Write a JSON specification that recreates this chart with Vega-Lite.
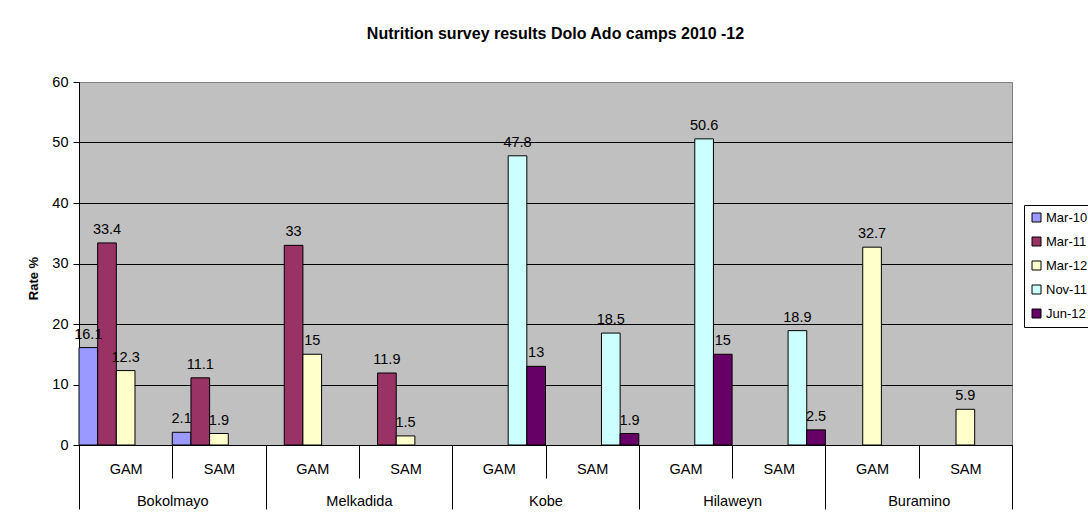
{
  "$schema": "https://vega.github.io/schema/vega-lite/v6.json",
  "width": 933,
  "height": 363,
  "autosize": {"type": "none"},
  "padding": {"left": 79, "top": 82, "right": 76, "bottom": 75},
  "background": "white",
  "title": {
    "text": "Nutrition survey results Dolo Ado camps 2010 -12",
    "font": "Liberation Sans",
    "fontSize": 16,
    "fontWeight": "bold",
    "color": "black",
    "anchor": "middle",
    "frame": "group",
    "baseline": "bottom",
    "offset": 16,
    "dx": 10
  },
  "config": {
    "font": "Liberation Sans",
    "view": {"stroke": "#808080", "fill": "#C0C0C0"},
    "axis": {
      "labelFont": "Liberation Sans",
      "labelFontSize": 14.5,
      "labelColor": "black",
      "titleFont": "Liberation Sans",
      "titleColor": "black",
      "tickColor": "black",
      "domainColor": "black"
    }
  },
  "datasets": {
    "rates": [
      {"camp": "Bokolmayo", "level": "GAM", "group": "Bokolmayo|GAM", "series": "Mar-10", "value": 16.1},
      {"camp": "Bokolmayo", "level": "GAM", "group": "Bokolmayo|GAM", "series": "Mar-11", "value": 33.4},
      {"camp": "Bokolmayo", "level": "GAM", "group": "Bokolmayo|GAM", "series": "Mar-12", "value": 12.3},
      {"camp": "Bokolmayo", "level": "SAM", "group": "Bokolmayo|SAM", "series": "Mar-10", "value": 2.1},
      {"camp": "Bokolmayo", "level": "SAM", "group": "Bokolmayo|SAM", "series": "Mar-11", "value": 11.1},
      {"camp": "Bokolmayo", "level": "SAM", "group": "Bokolmayo|SAM", "series": "Mar-12", "value": 1.9},
      {"camp": "Melkadida", "level": "GAM", "group": "Melkadida|GAM", "series": "Mar-11", "value": 33},
      {"camp": "Melkadida", "level": "GAM", "group": "Melkadida|GAM", "series": "Mar-12", "value": 15},
      {"camp": "Melkadida", "level": "SAM", "group": "Melkadida|SAM", "series": "Mar-11", "value": 11.9},
      {"camp": "Melkadida", "level": "SAM", "group": "Melkadida|SAM", "series": "Mar-12", "value": 1.5},
      {"camp": "Kobe", "level": "GAM", "group": "Kobe|GAM", "series": "Nov-11", "value": 47.8},
      {"camp": "Kobe", "level": "GAM", "group": "Kobe|GAM", "series": "Jun-12", "value": 13},
      {"camp": "Kobe", "level": "SAM", "group": "Kobe|SAM", "series": "Nov-11", "value": 18.5},
      {"camp": "Kobe", "level": "SAM", "group": "Kobe|SAM", "series": "Jun-12", "value": 1.9},
      {"camp": "Hilaweyn", "level": "GAM", "group": "Hilaweyn|GAM", "series": "Nov-11", "value": 50.6},
      {"camp": "Hilaweyn", "level": "GAM", "group": "Hilaweyn|GAM", "series": "Jun-12", "value": 15},
      {"camp": "Hilaweyn", "level": "SAM", "group": "Hilaweyn|SAM", "series": "Nov-11", "value": 18.9},
      {"camp": "Hilaweyn", "level": "SAM", "group": "Hilaweyn|SAM", "series": "Jun-12", "value": 2.5},
      {"camp": "Buramino", "level": "GAM", "group": "Buramino|GAM", "series": "Mar-12", "value": 32.7},
      {"camp": "Buramino", "level": "SAM", "group": "Buramino|SAM", "series": "Mar-12", "value": 5.9}
    ]
  },
  "data": {"name": "rates"},
  "layer": [
    {
      "encoding": {
        "x": {
          "field": "group",
          "type": "nominal",
          "scale": {
            "type": "band",
            "domain": ["Bokolmayo|GAM", "Bokolmayo|SAM", "Melkadida|GAM", "Melkadida|SAM", "Kobe|GAM", "Kobe|SAM", "Hilaweyn|GAM", "Hilaweyn|SAM", "Buramino|GAM", "Buramino|SAM"],
            "paddingInner": 0,
            "paddingOuter": 0
          },
          "axis": {
            "title": null,
            "labelExpr": "split(datum.label, '|')[1]",
            "labelAngle": 0,
            "labelBaseline": "middle",
            "labelPadding": -9,
            "tickBand": "extent",
            "tickSize": 33,
            "grid": false
          }
        },
        "xOffset": {
          "field": "series",
          "type": "nominal",
          "scale": {"domain": ["Mar-10", "Mar-11", "Mar-12", "Nov-11", "Jun-12"], "paddingInner": 0, "paddingOuter": 0}
        },
        "y": {
          "field": "value",
          "type": "quantitative",
          "scale": {"domain": [0, 60]},
          "axis": {
            "title": "Rate %",
            "titleFontSize": 13,
            "titleFontWeight": "bold",
            "titleAngle": -90,
            "titleAlign": "center",
            "titleBaseline": "middle",
            "titleX": -46,
            "titleY": 196,
            "values": [0, 10, 20, 30, 40, 50, 60],
            "tickSize": 6,
            "labelPadding": 5,
            "grid": true,
            "gridColor": {"condition": {"test": "datum.value === 60", "value": "#808080"}, "value": "black"},
            "gridWidth": 1
          }
        }
      },
      "layer": [
        {
          "mark": {"type": "bar", "stroke": "black", "strokeWidth": 1},
          "encoding": {
            "color": {
              "field": "series",
              "type": "nominal",
              "scale": {
                "domain": ["Mar-10", "Mar-11", "Mar-12", "Nov-11", "Jun-12"],
                "range": ["#9999FF", "#993366", "#FFFFCC", "#CCFFFF", "#660066"]
              },
              "legend": {
                "title": null,
                "orient": "none",
                "legendX": 945,
                "legendY": 123,
                "strokeColor": "black",
                "fillColor": "white",
                "padding": 6,
                "symbolType": "square",
                "symbolSize": 81,
                "symbolStrokeColor": "black",
                "symbolStrokeWidth": 1,
                "symbolOpacity": 1,
                "labelFont": "Liberation Sans",
                "labelFontSize": 13,
                "labelColor": "black",
                "labelOffset": 3,
                "rowPadding": 10
              }
            }
          }
        },
        {
          "mark": {"type": "text", "baseline": "alphabetic", "dy": -9, "fontSize": 14.5, "font": "Liberation Sans", "color": "black"},
          "encoding": {
            "text": {"field": "value", "type": "quantitative"}
          }
        }
      ]
    },
    {
      "mark": {"type": "point", "opacity": 0},
      "encoding": {
        "x": {
          "field": "camp",
          "type": "nominal",
          "scale": {
            "type": "band",
            "domain": ["Bokolmayo", "Melkadida", "Kobe", "Hilaweyn", "Buramino"],
            "paddingInner": 0,
            "paddingOuter": 0
          },
          "axis": {
            "orient": "bottom",
            "title": null,
            "labelAngle": 0,
            "labelBaseline": "middle",
            "labelPadding": -8,
            "tickBand": "extent",
            "tickSize": 64,
            "domain": false,
            "grid": false
          }
        }
      }
    }
  ],
  "resolve": {"scale": {"x": "independent"}, "axis": {"x": "independent"}}
}
